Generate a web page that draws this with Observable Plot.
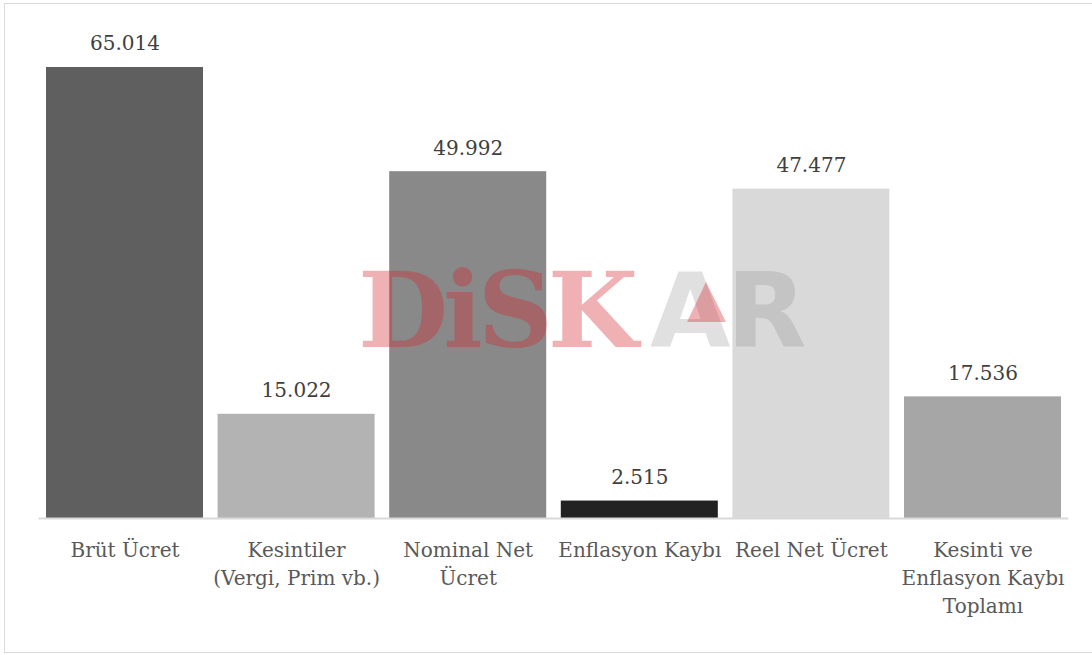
<!DOCTYPE html>
<html>
<head>
<meta charset="utf-8">
<script src="https://cdn.jsdelivr.net/npm/d3@7"></script>
<script src="https://cdn.jsdelivr.net/npm/@observablehq/plot@0.6"></script>
<style>
  html, body { margin: 0; padding: 0; background: #fff; }
  #wrap { position: relative; width: 1092px; height: 655px; overflow: hidden; }
  #border { position: absolute; left: 4px; top: 3px; width: 1095px; height: 648px; border: 1.5px solid #d9d9d9; box-sizing: content-box; pointer-events: none; }
  #chart { position: absolute; left: 0; top: 0; }
  #wm { position: absolute; left: 0; top: 0; width: 1092px; height: 655px; pointer-events: none; }
</style>
</head>
<body>
<div id="wrap">
  <div id="border"></div>
  <div id="chart"></div>
  <svg id="wm" width="1092" height="655"></svg>
</div>
<script>
const categories = [
  "Brüt Ücret",
  "Kesintiler\n(Vergi, Prim vb.)",
  "Nominal Net\nÜcret",
  "Enflasyon Kaybı",
  "Reel Net Ücret",
  "Kesinti ve\nEnflasyon Kaybı\nToplamı"
];
const values = [65014, 15022, 49992, 2515, 47477, 17536];
const barColors = ["#5f5f5f", "#b3b3b3", "#898989", "#222222", "#d9d9d9", "#a6a6a6"];

const data = categories.map((c, i) => ({cat: c, value: values[i]}));
const trLocale = d3.formatLocale({decimal: ",", thousands: ".", grouping: [3], currency: ["", "₺"]});
const fmt = trLocale.format(",d");

const chart = Plot.plot({
  width: 1092,
  height: 655,
  marginLeft: 38.7,
  marginRight: 23.7,
  marginTop: 32.4,
  marginBottom: 137,
  style: {fontFamily: "'DejaVu Serif', serif", background: "transparent"},
  x: {domain: categories, paddingInner: 0.085, paddingOuter: 0.0425, round: false, label: null},
  y: {domain: [0, 70000], axis: null},
  color: {domain: categories, range: barColors},
  marks: [
    Plot.barY(data, {x: "cat", y: "value", fill: "cat"}),
    Plot.ruleY([0], {stroke: "#d9d9d9", strokeWidth: 2}),
    Plot.text(data, {x: "cat", y: "value", text: d => fmt(d.value), lineAnchor: "bottom", dy: -17, fontSize: 20, fill: "#404040"}),
    Plot.axisX({tickSize: 0, tickPadding: 19, fontSize: 20, lineHeight: 1.4, fill: "#595959", label: null})
  ]
});
document.getElementById("chart").appendChild(chart);

// watermark logo (decorative)
const wm = d3.select("#wm");
wm.append("text").attr("x", 358).attr("y", 347)
  .attr("font-family", "'DejaVu Serif'").attr("font-weight", "bold").attr("font-size", 104)
  .attr("letter-spacing", -5)
  .attr("fill", "#d6262e").attr("fill-opacity", 0.36).text("DiSK");
wm.append("text").attr("x", 650).attr("y", 347)
  .attr("font-family", "'DejaVu Sans'").attr("font-weight", "bold").attr("font-size", 104)
  .attr("letter-spacing", -4)
  .attr("fill", "#898989").attr("fill-opacity", 0.26).text("AR");
wm.append("polygon").attr("points", "706,282 687,322 726,322")
  .attr("fill", "#d6262e").attr("fill-opacity", 0.36);
</script>
</body>
</html>
